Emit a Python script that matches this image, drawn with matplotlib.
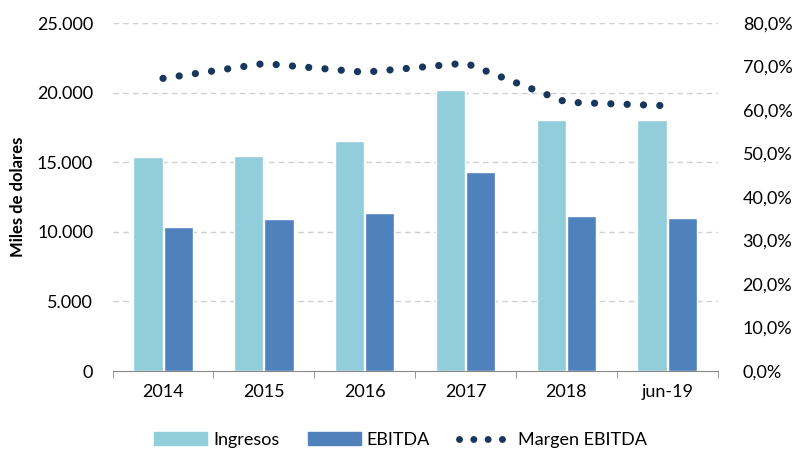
import matplotlib.pyplot as plt
import numpy as np
from matplotlib.ticker import FuncFormatter, MultipleLocator
from matplotlib.patches import Patch
from matplotlib.lines import Line2D

plt.rcParams['font.family'] = ['Lato', 'DejaVu Sans']

# data
periodos = ['2014', '2015', '2016', '2017', '2018', 'jun-19']
ingresos = [15380, 15450, 16520, 20190, 18030, 18030]
ebitda = [10350, 10920, 11350, 14300, 11140, 10990]
margen = [67.3, 70.7, 68.7, 70.8, 61.8, 61.0]

c_ing = '#92CDDC'
c_ebi = '#4F81BD'
c_mar = '#17375E'

fig = plt.figure(figsize=(7.93, 4.53), dpi=100)
ax = fig.add_axes([0.142, 0.181, 0.763, 0.768])
ax2 = ax.twinx()

x = np.arange(len(periodos))
w = 0.29
ax.bar(x - w / 2 - 0.005, ingresos, w, color=c_ing, edgecolor='white', linewidth=1, zorder=3)
ax.bar(x + w / 2 + 0.005, ebitda, w, color=c_ebi, edgecolor='white', linewidth=1, zorder=3)

ax2.plot(x, margen, color=c_mar, linewidth=5.2, linestyle=(0, (0.01, 2.25)),
         dash_capstyle='round', solid_capstyle='round', zorder=4)

ax.set_xlim(-0.5, len(periodos) - 0.5)
ax.set_ylim(0, 25000)
ax2.set_ylim(0, 80)
ax.yaxis.set_major_locator(MultipleLocator(5000))
ax2.yaxis.set_major_locator(MultipleLocator(10))
ax.yaxis.set_major_formatter(FuncFormatter(lambda v, p: f'{v:,.0f}'.replace(',', '.')))
ax2.yaxis.set_major_formatter(FuncFormatter(lambda v, p: f'{v:.1f}%'.replace('.', ',')))

# gridlines (skip the one at zero)
for v in range(5000, 25001, 5000):
    ax.axhline(v, color='#D0D0D0', linestyle=(0, (4, 3)), linewidth=1, zorder=0)

ax.set_xticks(x)
ax.set_xticklabels(periodos)
ax.set_xticks(np.arange(-0.5, len(periodos)), minor=True)
ax.tick_params(axis='x', which='major', length=0, pad=9, labelsize=13)
ax.tick_params(axis='x', which='minor', length=5, color='#868686')
ax.tick_params(axis='y', length=0, labelsize=13, pad=14)
ax2.tick_params(axis='y', length=0, labelsize=13, pad=18)

for a in (ax, ax2):
    for s in ('top', 'left', 'right'):
        a.spines[s].set_visible(False)
ax.spines['bottom'].set_color('#868686')
ax2.spines['bottom'].set_visible(False)

ax.set_ylabel('Miles de dolares', fontsize=12, fontweight='bold', labelpad=8)

handles = [Patch(color=c_ing, label='Ingresos'),
           Patch(color=c_ebi, label='EBITDA'),
           Line2D([0], [0], color=c_mar, linewidth=5, linestyle=(0, (0.01, 2.05)),
                  dash_capstyle='round', label='Margen EBITDA')]
fig.legend(handles=handles, loc='lower center', bbox_to_anchor=(0.505, -0.025), ncol=3,
           frameon=False, fontsize=13, handlelength=2.9, handleheight=0.7,
           columnspacing=1.6, handletextpad=0.35)

fig.savefig('out.png', dpi=100)
